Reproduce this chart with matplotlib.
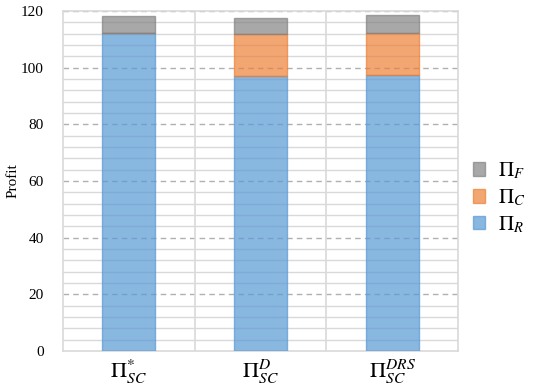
import numpy as np
import matplotlib.pyplot as plt
from matplotlib.patches import Patch

plt.rcParams['font.family'] = ['Liberation Serif', 'DejaVu Serif']
plt.rcParams['mathtext.fontset'] = 'stix'

# data
categories = [r'$\Pi_{SC}^{*}$', r'$\Pi_{SC}^{D}$', r'$\Pi_{SC}^{DRS}$']
profit_r = [112.2, 97.1, 97.4]
profit_c = [0.0, 14.7, 14.8]
profit_f = [6.1, 5.6, 6.5]

fig = plt.figure(figsize=(5.5, 3.88), dpi=100)
ax = fig.add_axes([0.1145, 0.0954, 0.7185, 0.876])

x = np.arange(len(categories))
w = 0.4
bottom_c = np.array(profit_r)
bottom_f = bottom_c + np.array(profit_c)

ax.bar(x, profit_r, w, color='#5B9BD5', alpha=0.72, edgecolor='#5B9BD5', linewidth=1, zorder=3)
ax.bar(x, profit_c, w, bottom=bottom_c, color='#ED7D31', alpha=0.68, edgecolor='#ED7D31', linewidth=1, zorder=3)
ax.bar(x, profit_f, w, bottom=bottom_f, color='#7F7F7F', alpha=0.68, edgecolor='#7F7F7F', linewidth=1, zorder=3)

# grid: solid minor every 4, dashed major every 20
for yv in np.arange(4, 120, 4):
    if yv % 20 == 0:
        ax.axhline(yv, color='#B0B0B0', lw=1, ls=(0, (4, 3)), zorder=1)
    else:
        ax.axhline(yv, color='#D9D9D9', lw=1, zorder=1)
ax.axhline(120, color='#B0B0B0', lw=1, ls=(0, (4, 3)), zorder=1)
for xv in [0.5, 1.5]:
    ax.axvline(xv, color='#D9D9D9', lw=1.2, zorder=1)

ax.set_xlim(-0.5, 2.5)
ax.set_ylim(0, 120)
ax.set_yticks(np.arange(0, 121, 20))
ax.set_xticks(x)
ax.set_xticklabels(categories, fontsize=16)
ax.tick_params(axis='y', labelsize=11, length=0, pad=14)
ax.tick_params(axis='x', length=0, pad=5)
for s in ax.spines.values():
    s.set_color('#D9D9D9')
    s.set_linewidth(1.2)

ax.set_ylabel('Profit', fontsize=11, labelpad=6)
ax.yaxis.set_label_coords(-0.11, 0.5)

handles = [Patch(facecolor='#7F7F7F', edgecolor='#7F7F7F', alpha=0.68),
           Patch(facecolor='#ED7D31', edgecolor='#ED7D31', alpha=0.68),
           Patch(facecolor='#5B9BD5', edgecolor='#5B9BD5', alpha=0.72)]
labels = [r'$\Pi_{F}$', r'$\Pi_{C}$', r'$\Pi_{R}$']
fig.legend(handles, labels, loc='center left', bbox_to_anchor=(0.825, 0.49),
           frameon=False, fontsize=15, handlelength=0.6, handleheight=0.6,
           handletextpad=0.6, labelspacing=0.3)

fig.savefig('out.png', dpi=100)
